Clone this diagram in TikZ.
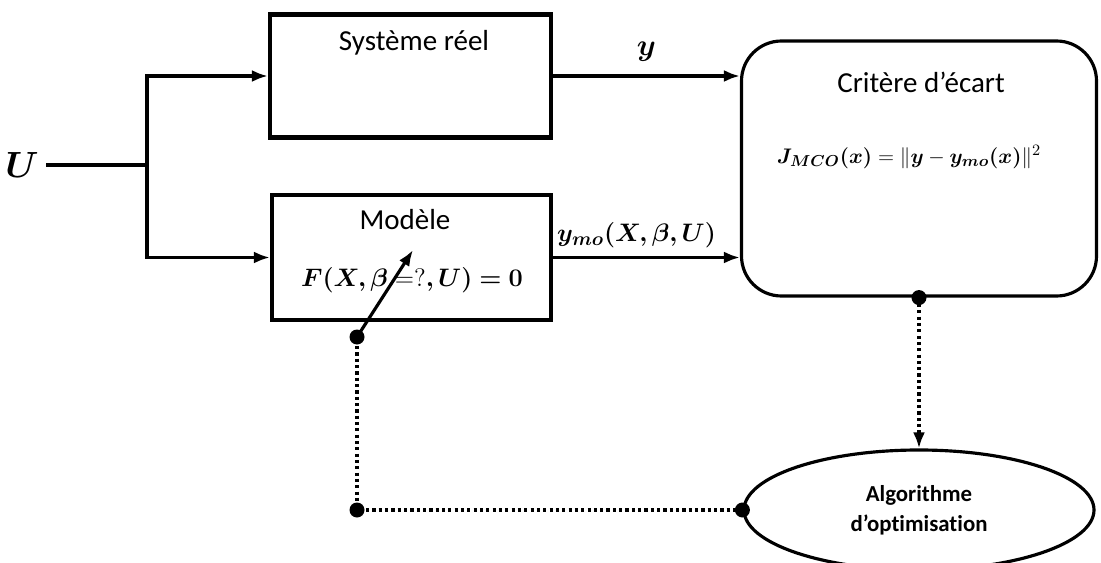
\documentclass[tikz,border=0pt]{standalone}
\usepackage{amsmath,bm}
\usepackage{fontspec}
\setmainfont{Carlito}[Ligatures=NoCommon]
\usetikzlibrary{calc,positioning,shapes.geometric,arrows.meta}

\begin{document}
\begin{tikzpicture}
  [>={Latex[length=0.32cm,width=0.24cm]},line width=1.8pt,every node/.style={font=\fontsize{16.5}{20}\selectfont},
   bloc/.style={draw,rectangle,line width=2.4pt},
   pointille/.style={line width=2pt,dash pattern=on 1.8pt off 1.8pt},
   point/.style={circle,fill,inner sep=0pt,minimum size=0.3cm}]
  \useasboundingbox (0,0) rectangle (22.02,-11.26);

  \node (nsys) [bloc,minimum width=5.62cm,minimum height=2.46cm] at (8.21,-1.52) {};
  \node (nmod) [bloc,minimum width=5.58cm,minimum height=2.5cm] at (8.23,-5.15) {};
  \node (ncrit) [draw,rounded corners=0.8cm,line width=1.8pt,minimum width=7.1cm,minimum height=5.1cm] at (18.38,-3.37) {};
  \node (nalgo) [ellipse,draw,line width=1.8pt,minimum width=7cm,minimum height=2.4cm,align=center,
    font=\bfseries\fontsize{13}{17}\selectfont] at (18.38,-10.2) {Algorithme\\d’optimisation};

  \node (nsyslabel) at (8.28,-0.86) {Système réel};
  \node (nmodlabel) at (8.1,-4.4) {Modèle};
  \node (nmodeq) [font=\fontsize{15}{18}\selectfont] at (8.24,-5.6) {$\bm{F(X,\beta}=?\bm{,U)=0}$};
  \node (ncritlabel) at (18.42,-1.64) {Critère d’écart};
  \node (ncriteq) [font=\fontsize{13.2}{16}\selectfont] at (18.18,-3.14) {$\bm{J_{MCO}(x)}=\|\bm{y}-\bm{y_{mo}(x)}\|^2$};

  \node (nu) [font=\fontsize{20}{24}\selectfont] at (0.44,-3.3) {$\bm{U}$};
  \coordinate (nfork) at (2.94,-3.3);
  \node (nbeta) [point] at (7.14,-6.74) {};
  \coordinate (nbetatip) at (8.26,-5.0);
  \node (ncorner) [point] at (nbeta |- nalgo.west) {};

  \draw (nu) -- (nfork);
  \draw[->] (nfork) |- (nsys.west);
  \draw[->] (nfork) |- (nmod.west);
  \draw[->] (nsys.east) -- (nsys.east -| ncrit.west) node [midway,above=0.15cm] {$\bm{y}$};
  \draw[->] (nmod.east) -- (nmod.east -| ncrit.west) node [midway,above=0.05cm,xshift=-0.2cm,font=\fontsize{15}{18}\selectfont] {$\bm{y_{mo}(X,\beta,U)}$};
  \draw[->] (nbeta.center) -- (nbetatip);

  \fill (ncrit.south) circle (0.15);
  \fill (nalgo.west) circle (0.15);
  \draw[pointille,->] (ncrit.south) -- (nalgo.north);
  \draw[pointille] (nbeta) -- (ncorner) -- (nalgo.west);
\end{tikzpicture}
\end{document}
